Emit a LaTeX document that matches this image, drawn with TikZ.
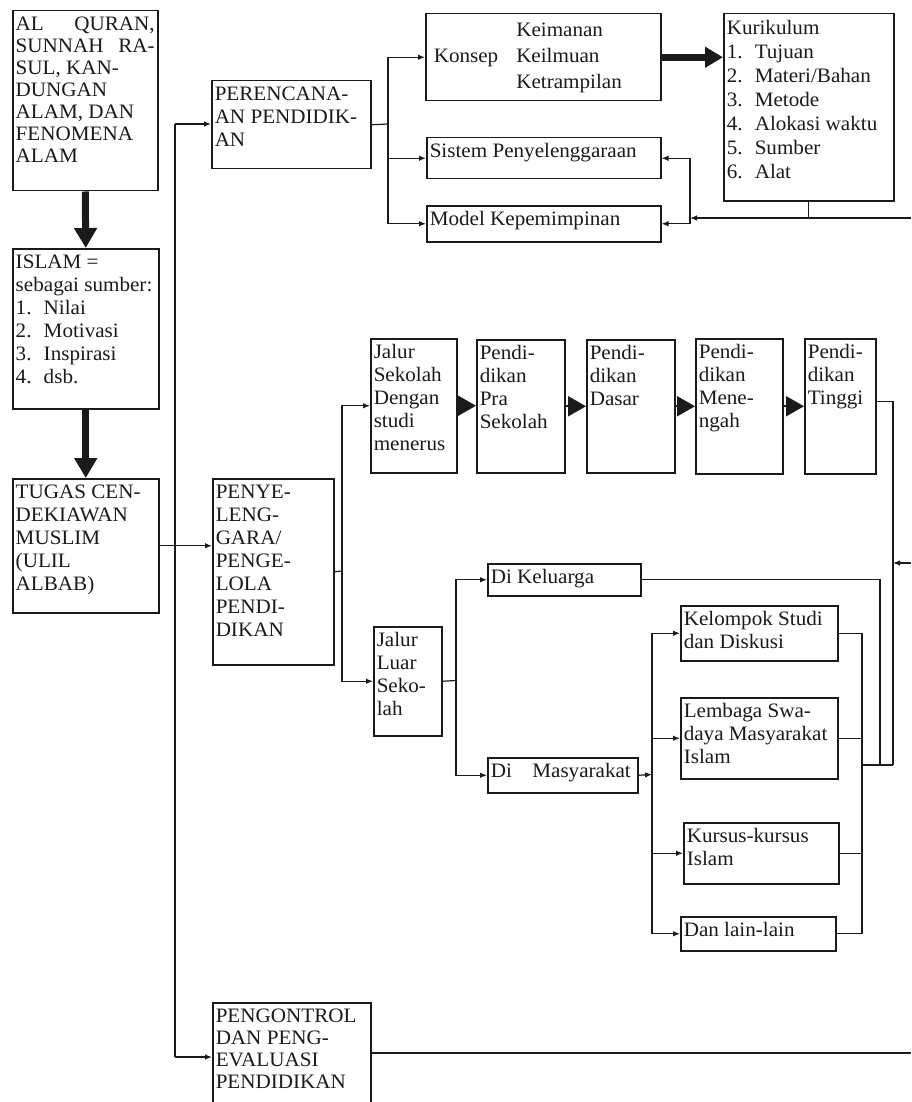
\documentclass[tikz,border=0pt]{standalone}
\usepackage{fontspec}
\setmainfont[FakeStretch=1.03]{Liberation Serif}
\usetikzlibrary{arrows.meta}
\definecolor{ink}{HTML}{1A1A1A}
\tikzset{
  bx/.style={draw=ink, line width=1.5pt, inner xsep=3pt, inner ysep=4pt, anchor=north west, text=ink,
             font=\fontsize{20.5}{23}\selectfont},
  conn/.style={draw=ink, line width=1.2pt},
  arr/.style={conn, -{Latex[length=7pt,width=5.5pt]}},
  bigarr/.style={draw=ink, line width=7pt, -{Triangle[length=20pt,width=22pt]}},
  tri/.style={draw=ink, line width=2pt, -{Triangle[length=18pt,width=20pt]}},
}
\newcommand\BX[7][]{%
  \pgfmathsetmacro\bxw{#5-#3-6}%
  \pgfmathsetmacro\bxh{#6-#4-8}%
  \node[bx,#1] (#2) at (#3,#4) {\parbox[t][\bxh pt][t]{\bxw pt}{\raggedright\strut #7}};}
\newcommand\numbox[2][28pt]{\makebox[#1][l]{#2}}
\begin{document}
\begin{tikzpicture}[x=1pt,y=-1pt]
\fill[white] (0,0) rectangle (911,1102);
\useasboundingbox (0,0) rectangle (911,1102);

% left column
\BX[font=\fontsize{20.5}{22}\selectfont]{src}{12}{10}{157}{190}{AL\hfill QURAN,\\SUNNAH\hfill RA-\\SUL, KAN-\\DUNGAN\\ALAM, DAN\\FENOMENA\\ALAM}
\BX{islam}{12}{248}{158}{408}{ISLAM =\\sebagai sumber:\\\numbox{1.}Nilai\\\numbox{2.}Motivasi\\\numbox{3.}Inspirasi\\\numbox{4.}dsb.}
\BX{tugas}{12}{478}{158}{612}{TUGAS CEN-\\DEKIAWAN\\MUSLIM\\(ULIL\\ALBAB)}

% second column
\BX{peren}{211}{80}{370}{168}{PERENCANA-\\AN PENDIDIK-\\AN}
\BX{penye}{212}{478}{333}{664}{PENYE-\\LENG-\\GARA/\\PENGE-\\LOLA\\PENDI-\\DIKAN}
\BX[font=\fontsize{20.5}{22}\selectfont]{peng}{212}{1002}{370}{1112}{PENGONTROL\\DAN PENG-\\EVALUASI\\PENDIDIKAN}

% planning branch
\node[bx, inner sep=0pt] (konsep) at (425,13)
  {\parbox[t][87pt][c]{235pt}{\hspace*{8pt}\def\arraystretch{1.15}%
   \begin{tabular}{@{}l@{\hspace{18pt}}l@{}} & Keimanan\\ Konsep & Keilmuan\\ & Ketrampilan\end{tabular}}};
\BX[font=\fontsize{20.5}{24}\selectfont]{kuri}{723}{13}{893}{200}{Kurikulum\\\numbox{1.}Tujuan\\\numbox{2.}Materi/Bahan\\\numbox{3.}Metode\\\numbox{4.}Alokasi waktu\\\numbox{5.}Sumber\\\numbox{6.}Alat}
\BX{sistem}{426}{137}{660}{178}{Sistem Penyelenggaraan}
\BX{model}{426}{205}{660}{241}{Model Kepemimpinan}

% school path
\BX{jalurs}{370}{338}{456}{472}{Jalur\\Sekolah\\Dengan\\studi\\menerus}
\BX{pra}{476}{339}{564}{472}{Pendi-\\dikan\\Pra\\Sekolah}
\BX{dasar}{586}{339}{674}{472}{Pendi-\\dikan\\Dasar}
\BX{meneng}{695}{338}{782}{473}{Pendi-\\dikan\\Mene-\\ngah}
\BX{tinggi}{804}{338}{875}{473}{Pendi-\\dikan\\Tinggi}

% out-of-school path
\BX{keluarga}{487}{563}{640}{595}{Di Keluarga}
\BX{jalurl}{373}{626}{441}{735}{Jalur\\Luar\\Seko-\\lah}
\BX{masy}{487}{757}{637}{792}{Di\quad Masyarakat}
\BX{kelompok}{680}{605}{837}{660}{Kelompok Studi\\dan Diskusi}
\BX{lembaga}{680}{697}{837}{778}{Lembaga Swa-\\daya Masyarakat\\Islam}
\BX{kursus}{683}{822}{838}{883}{Kursus-kursus\\Islam}
\BX{lain}{680}{916}{835}{950}{Dan lain-lain}

% thick arrows
\draw[bigarr] (src.south) -- (islam.north);
\draw[bigarr] (islam.south) -- (tugas.north);
\draw[draw=ink, line width=7pt, -{Triangle[length=18pt,width=20pt]}] (konsep.east) -- (konsep.east -| kuri.west);
\draw[tri] (jalurs.east) -- (jalurs.east -| pra.west);
\draw[tri] (pra.east) -- (pra.east -| dasar.west);
\draw[tri] (dasar.east) -- (dasar.east -| meneng.west);
\draw[tri] (meneng.east) -- (meneng.east -| tinggi.west);

% spine
\coordinate (sp1) at (175,124);
\coordinate (sp2) at (175,1057);
\draw[conn] (sp1) -- (sp2);
\draw[arr] (sp1) -- (sp1 -| peren.west);
\draw[arr] (sp2) -- (sp2 -| peng.west);
\draw[arr] (tugas.east) -- (tugas.east -| penye.west);

% planning fan-out
\coordinate (pj) at (388,124);
\draw[conn] (peren.east) -- (pj);
\draw[arr] (pj) |- (konsep.west);
\draw[arr] (pj) |- (sistem.west);
\draw[arr] (pj) |- (model.west);

% curriculum feedback
\coordinate (fr) at (911,218);
\coordinate (fj) at (690,218);
\draw[conn] (kuri.south) -- (kuri.south |- fr);
\draw[arr] (fr) -- (fj);
\draw[arr] (fj) |- (sistem.east);
\draw[arr] (fj) |- (model.east);

% organiser fan-out
\coordinate (pyj) at (342,571);
\draw[conn] (penye.east) -- (pyj);
\draw[arr] (pyj) |- (jalurs.west);
\draw[arr] (pyj) |- (jalurl.west);

% out-of-school fan-out
\coordinate (jlj) at (456,680.5);
\draw[conn] (jalurl.east) -- (jlj);
\draw[arr] (jlj) |- (keluarga.west);
\draw[arr] (jlj) |- (masy.west);
\coordinate (mj) at (652,774.5);
\draw[arr] (masy.east) -- (mj);
\draw[arr] (mj) |- (kelompok.west);
\draw[arr] (mj) |- (lembaga.west);
\draw[arr] (mj) |- (kursus.west);
\draw[arr] (mj) |- (lain.west);

% right-hand collectors
\coordinate (rv) at (893,765);
\coordinate (kv) at (880,765);
\coordinate (cv) at (862,765);
\draw[conn] ([yshift=5pt]tinggi.east) -| (rv);
\draw[conn] (keluarga.east) -| (kv);
\draw[conn] (kelompok.east) -| (cv);
\draw[conn] (lain.east) -| (cv);
\draw[conn] (lembaga.east) -- (lembaga.east -| cv);
\draw[conn] (kursus.east) -- (kursus.east -| cv);
\draw[conn] (cv) -- (rv);
\coordinate (rin) at (911,563);
\coordinate (rvm) at (893,563);
\draw[arr] (rin) -- (rvm);
\coordinate (pr) at (911,1053);
\draw[conn] (peng.east |- pr) -- (pr);
\end{tikzpicture}
\end{document}
